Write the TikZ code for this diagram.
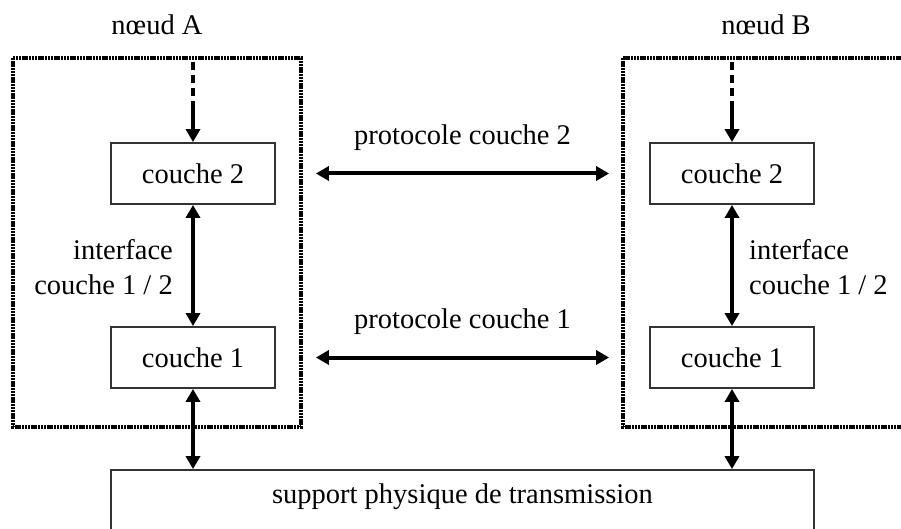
\documentclass[tikz,border=0pt]{standalone}
\usepackage{fontspec}
\setmainfont{Liberation Serif}
\usetikzlibrary{arrows.meta,calc}
\begin{document}
\begin{tikzpicture}[x=1pt,y=-1pt,
  layerbox/.style={draw=black!80,line width=1.8pt,minimum width=164pt,minimum height=61pt,inner sep=0pt},
  nodebox/.style={draw=black,line width=3.6pt,dash pattern=on 2.4pt off 0.8pt},
  link/.style={line width=4pt,-{Triangle[length=13pt,width=14pt]}},
  dlink/.style={line width=4pt,{Triangle[length=13pt,width=14pt]}-{Triangle[length=13pt,width=14pt]}},
  lbl/.style={inner sep=0pt,font=\fontsize{28.5}{35}\selectfont}]
\useasboundingbox (0,0) rectangle (901,529);
\clip (0,0) rectangle (901,529);
\fill[white] (0,0) rectangle (901,529);
% dotted node boxes
\draw[nodebox] (13,58) rectangle (301,427);
\draw[nodebox] (623,58) rectangle (915,427);
\node[lbl] (nA) at (157,25) {nœud A};
\node[lbl] (nB) at (766,25) {nœud B};
% layers
\node[layerbox,lbl] (c2A) at (193,173.5) {couche 2};
\node[layerbox,lbl] (c2B) at (732,173.5) {couche 2};
\node[layerbox,lbl] (c1A) at (193,357.5) {couche 1};
\node[layerbox,lbl] (c1B) at (732,357.5) {couche 1};
\node[draw=black!80,line width=1.8pt,minimum width=703pt,minimum height=80pt,inner sep=0pt] (sup) at (462.5,510) {};
\node[lbl] (supt) at (462.5,497) {support physique de transmission};
% top dashed entries
\coordinate (tA) at (193,62);
\coordinate (mA) at (193,107);
\coordinate (tB) at (732,62);
\coordinate (mB) at (732,107);
\draw[line width=4pt,dash pattern=on 8pt off 5pt] (tA) -- (mA);
\draw[link] (mA) -- (c2A.north);
\draw[line width=4pt,dash pattern=on 8pt off 5pt] (tB) -- (mB);
\draw[link] (mB) -- (c2B.north);
% interfaces
\draw[dlink] (c2A.south) -- (c1A.north);
\draw[dlink] (c2B.south) -- (c1B.north);
\draw[dlink] (c1A.south) -- (c1A.south |- sup.north);
\draw[dlink] (c1B.south) -- (c1B.south |- sup.north);
\node[lbl,align=right,anchor=east] (iA) at (173,267) {interface\\couche 1 / 2};
\node[lbl,align=left,anchor=west] (iB) at (749,267) {interface\\couche 1 / 2};
% protocols
\coordinate (p2a) at ($(c2A.east)+(40,0)$);
\coordinate (p2b) at ($(c2B.west)+(-40,0)$);
\coordinate (p1a) at ($(c1A.east)+(40,0)$);
\coordinate (p1b) at ($(c1B.west)+(-40,0)$);
\draw[dlink] (p2a) -- (p2b);
\draw[dlink] (p1a) -- (p1b);
\node[lbl] (pr2) at (462.5,138) {protocole couche 2};
\node[lbl] (pr1) at (462.5,322) {protocole couche 1};
\end{tikzpicture}
\end{document}
